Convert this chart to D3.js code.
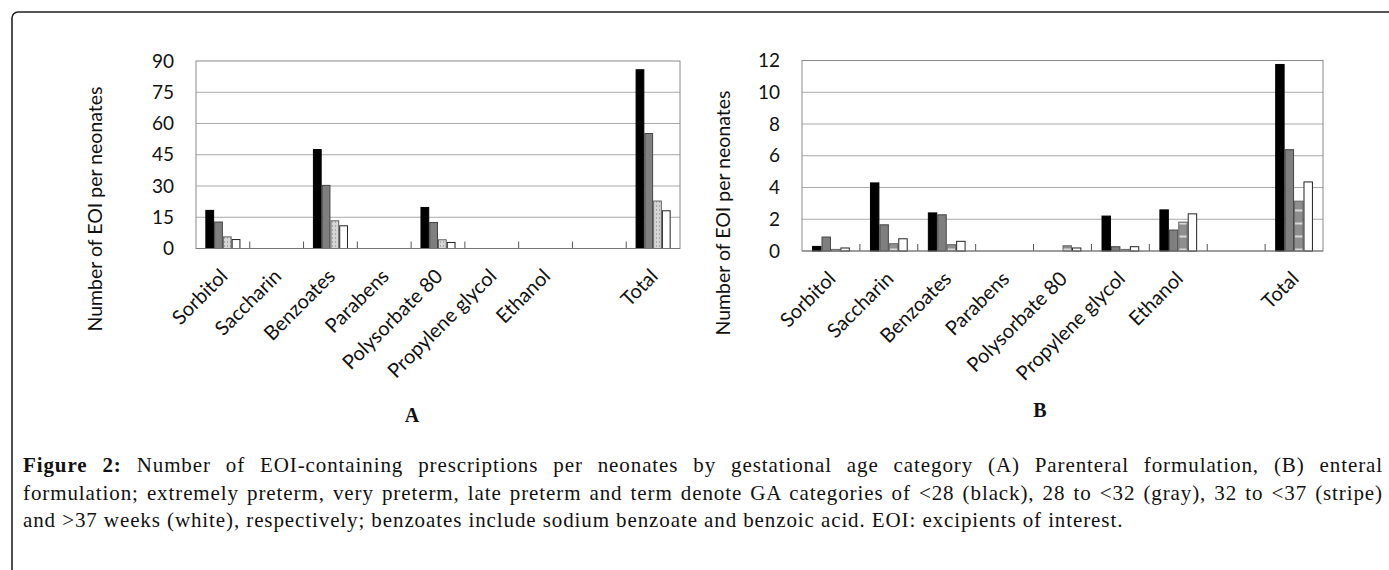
<!DOCTYPE html>
<html>
<head>
<meta charset="utf-8">
<script src="https://cdn.jsdelivr.net/npm/d3@7"></script>
<style>
  body { margin: 0; background: #fff; }
  #fig { position: relative; width: 1389px; height: 570px; overflow: hidden; }
  #fig svg { position: absolute; left: 0; top: 0; }
  .caption { position: absolute; left: 23px; width: 1360px; font-family: "Liberation Serif", serif;
    font-size: 21px; letter-spacing: 0.9px; color: #111; white-space: nowrap; }
  .caption.just { text-align: justify; text-align-last: justify; white-space: normal; }
  .axis text { font-family: Lato, sans-serif; }
</style>
</head>
<body>
<div id="fig"></div>
<script>
// categorias del eje x (la penultima esta vacia en el original)
const categories = ["Sorbitol", "Saccharin", "Benzoates", "Parabens", "Polysorbate 80",
  "Propylene glycol", "Ethanol", " ", "Total"]
const groups = ["<28", "28 to <32", "32 to <37", ">37"]

// A: formulacion parenteral
const parBlack  = [18.3, 0, 47.5, 0, 19.7, 0, 0, 0, 85.8]
const parGray   = [12.7, 0, 30.3, 0, 12.5, 0, 0, 0, 55.2]
const parStripe = [5.6, 0, 13.3, 0, 4.2, 0, 0, 0, 22.8]
const parWhite  = [4.3, 0, 10.9, 0, 2.9, 0, 0, 0, 18.1]
const parTicks  = [0, 15, 30, 45, 60, 75, 90]

// B: formulacion enteral
const entBlack  = [0.29, 4.29, 2.4, 0, 0, 2.2, 2.59, 0, 11.75]
const entGray   = [0.88, 1.65, 2.28, 0, 0, 0.27, 1.32, 0, 6.38]
const entStripe = [0.1, 0.46, 0.4, 0, 0.33, 0.1, 1.82, 0, 3.14]
const entWhite  = [0.19, 0.77, 0.61, 0, 0.19, 0.27, 2.34, 0, 4.35]
const entTicks  = [0, 2, 4, 6, 8, 10, 12]

const fig = d3.select("#fig")
const svg = fig.append("svg").attr("width", 1389).attr("height", 570)

// marco exterior redondeado
svg.append("rect")
  .attr("x", 12).attr("y", 12)
  .attr("width", 1400).attr("height", 620)
  .attr("rx", 6)
  .attr("fill", "none").attr("stroke", "#222").attr("stroke-width", 1.6)

const defs = svg.append("defs")
const pA = defs.append("pattern").attr("id", "stripeA")
  .attr("patternUnits", "userSpaceOnUse").attr("width", 3).attr("height", 4)
pA.append("rect").attr("width", 3).attr("height", 4).attr("fill", "#d6d6d6")
pA.append("rect").attr("x", 1).attr("width", 1).attr("height", 2).attr("fill", "#a8a8a8")
const pB = defs.append("pattern").attr("id", "stripeB")
  .attr("patternUnits", "userSpaceOnUse").attr("width", 10).attr("height", 13)
pB.append("rect").attr("width", 10).attr("height", 13).attr("fill", "#8e8e8e")
pB.append("rect").attr("y", 6).attr("width", 10).attr("height", 2).attr("fill", "#d9d9d9")

const drawPanel = (cfg) => {
  const { left, right, top, bottom, max, ticks, series, stripe, titleX, titleY, letter, letterX, letterY } = cfg
  const ancho = right - left
  const alto = bottom - top
  const g = svg.append("g").attr("transform", `translate(${left}, ${top})`)

  const x = d3.scaleBand().domain(categories).range([0, ancho])
  const bw = x.bandwidth()
  const pad = (bw - 4 * bw * 0.163) / 2
  const x1 = d3.scaleBand().domain(groups).range([pad, bw - pad])
  const y = d3.scaleLinear().domain([0, max]).range([alto, 0])

  // lineas de la cuadricula
  g.selectAll(".grid").data(ticks.slice(1, -1)).enter().append("line")
    .attr("x1", 0).attr("x2", ancho)
    .attr("y1", (d) => y(d)).attr("y2", (d) => y(d))
    .attr("stroke", "#a9a9a9").attr("stroke-width", 1)

  g.append("rect").attr("width", ancho).attr("height", alto)
    .attr("fill", "none").attr("stroke", "#8a8a8a").attr("stroke-width", 1)

  const fills = ["#000", "#7f7f7f", `url(#${stripe})`, "#fff"]
  const strokes = ["#000", "#444", "#666", "#222"]
  const data = []
  categories.forEach((c, i) => {
    series.forEach((s, j) => {
      if (s[i] > 0) data.push({ cat: c, grp: groups[j], v: s[i], j })
    })
  })
  g.selectAll(".bar").data(data).enter().append("rect")
    .attr("x", (d) => x(d.cat) + x1(d.grp) + 0.5)
    .attr("y", (d) => y(d.v))
    .attr("width", x1.bandwidth() - 1)
    .attr("height", (d) => alto - y(d.v))
    .attr("fill", (d) => fills[d.j])
    .attr("stroke", (d) => strokes[d.j]).attr("stroke-width", 1)

  // marcas entre categorias
  g.selectAll(".ctick").data(categories.slice(1)).enter().append("line")
    .attr("x1", (d) => x(d)).attr("x2", (d) => x(d))
    .attr("y1", alto).attr("y2", alto - 7)
    .attr("stroke", "#555")

  g.append("line").attr("x1", 0).attr("x2", ancho).attr("y1", alto).attr("y2", alto)
    .attr("stroke", "#777")

  const yAxis = d3.axisLeft(y).tickValues(ticks).tickSize(0).tickPadding(22)
  const yg = g.append("g").classed("axis", true).call(yAxis)
  yg.select(".domain").remove()
  yg.selectAll("text").attr("font-size", 19).attr("fill", "#111")

  const xAxis = d3.axisBottom(x).tickSize(0).tickFormat((d) => d.trim())
  const xg = g.append("g").classed("axis", true)
    .attr("transform", `translate(0, ${alto})`).call(xAxis)
  xg.select(".domain").remove()
  xg.selectAll("text")
    .attr("font-size", 20).attr("fill", "#111")
    .style("text-anchor", "end")
    .attr("dx", 0).attr("dy", 0).attr("y", 0)
    .attr("transform", "translate(6, 29) rotate(-45)")

  svg.append("text")
    .attr("transform", `translate(${titleX}, ${titleY}) rotate(-90)`)
    .attr("text-anchor", "middle")
    .attr("font-family", "Lato, sans-serif").attr("font-size", 19.5).attr("fill", "#111")
    .text("Number of EOI per neonates")

  svg.append("text").attr("x", letterX).attr("y", letterY)
    .attr("text-anchor", "middle")
    .attr("font-family", "Liberation Serif, serif").attr("font-weight", "bold")
    .attr("font-size", 20).attr("fill", "#111")
    .text(letter)
}

drawPanel({
  left: 196, right: 680, top: 61, bottom: 248.5, max: 90, ticks: parTicks,
  series: [parBlack, parGray, parStripe, parWhite], stripe: "stripeA",
  titleX: 102, titleY: 209, letter: "A", letterX: 412, letterY: 422
})
drawPanel({
  left: 802, right: 1323, top: 60.5, bottom: 251, max: 12, ticks: entTicks,
  series: [entBlack, entGray, entStripe, entWhite], stripe: "stripeB",
  titleX: 730, titleY: 213, letter: "B", letterX: 1040, letterY: 417
})

// pie de figura
const lines = [
  { html: "<b>Figure 2:</b> Number of EOI-containing prescriptions per neonates by gestational age category (A) Parenteral formulation, (B) enteral", just: true },
  { html: "formulation; extremely preterm, very preterm, late preterm and term denote GA categories of &lt;28 (black), 28 to &lt;32 (gray), 32 to &lt;37 (stripe)", just: true },
  { html: "and &gt;37 weeks (white), respectively; benzoates include sodium benzoate and benzoic acid. EOI: excipients of interest.", just: false },
]
lines.forEach((l, i) => {
  fig.append("div")
    .attr("class", l.just ? "caption just" : "caption")
    .style("top", `${453 + i * 27.5}px`)
    .html(l.html)
})
</script>
</body>
</html>
